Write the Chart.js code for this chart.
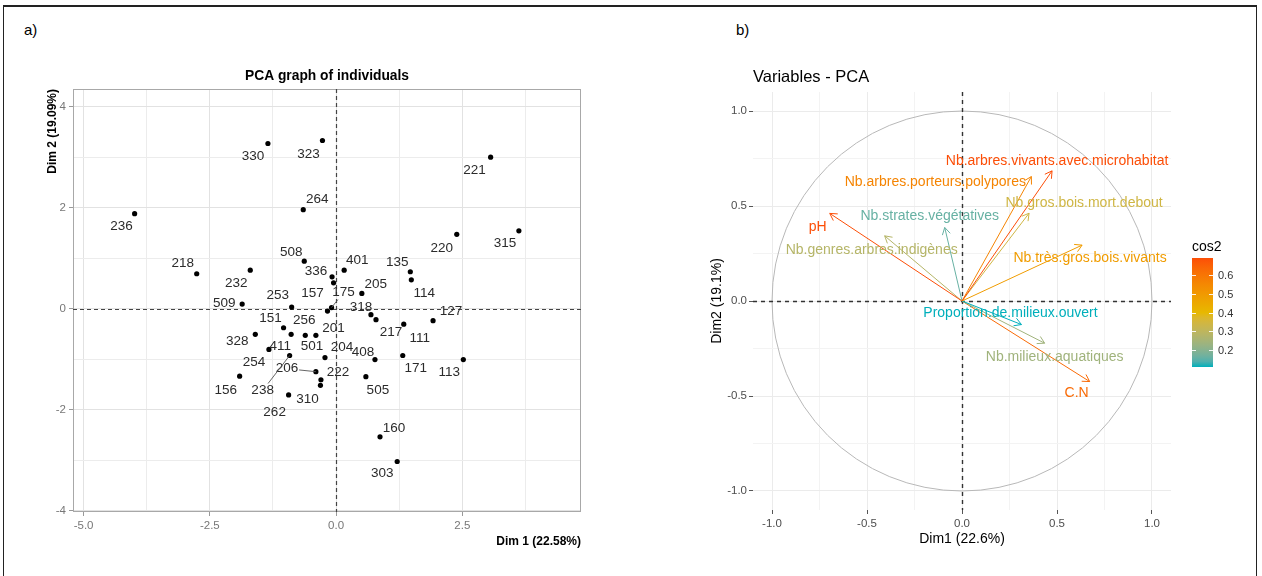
<!DOCTYPE html>
<html>
<head>
<meta charset="utf-8">
<script src="https://cdn.jsdelivr.net/npm/chart.js@4.4.0/dist/chart.umd.min.js"></script>
<style>
  html, body { margin: 0; padding: 0; background: #fff; }
  #page { position: relative; width: 1262px; height: 576px; overflow: hidden; background: #fff;
          font-family: "Liberation Sans", Arial, sans-serif; }
  #frame { position: absolute; left: 3px; top: 5px; width: 1252px; height: 620px;
           border: 1px solid #222; border-top-width: 2px; }
  .tag { position: absolute; top: 21px; font-size: 15px; line-height: 18px; color: #000; }
  #cvA { position: absolute; left: 0; top: 0; }
  #cvB { position: absolute; left: 640px; top: 0; }
</style>
</head>
<body>
<div id="page">
  <div id="frame"></div>
  <div class="tag" style="left:24px">a)</div>
  <div class="tag" style="left:736px">b)</div>
  <canvas id="cvA" width="640" height="576"></canvas>
  <canvas id="cvB" width="622" height="576"></canvas>
</div>
<script>
// ---- panel a: individuals ----
const indNames = ["330", "323", "264", "236", "218", "232", "508", "336", "157", "401",
  "175", "205", "509", "253", "318", "217", "201", "151", "256", "411",
  "501", "328", "204", "408", "254", "206", "238", "222", "156", "505",
  "310", "262", "135", "114", "220", "221", "315", "111", "127", "171",
  "113", "160", "303"];
const indDim1 = [-1.35, -0.27, -0.65, -3.99, -2.76, -1.70, -0.63, -0.08, -0.05, 0.16,
  -0.09, 0.51, -1.86, -0.88, 0.69, 0.79, -0.17, -1.04, -0.61, -0.89,
  -0.40, -1.60, -0.22, 0.77, -1.33, -0.40, -0.92, -0.30, -1.91, 0.59,
  -0.31, -0.94, 1.47, 1.49, 2.39, 3.06, 3.62, 1.34, 1.92, 1.32,
  2.52, 0.87, 1.21];
const indDim2 = [3.27, 3.33, 1.96, 1.88, 0.69, 0.76, 0.94, 0.63, 0.51, 0.76,
  0.02, 0.30, 0.09, 0.03, -0.12, -0.22, -0.05, -0.38, -0.53, -0.51,
  -0.53, -0.51, -0.97, -1.01, -0.81, -1.25, -0.93, -1.41, -1.34, -1.35,
  -1.52, -1.71, 0.73, 0.57, 1.47, 3.00, 1.54, -0.31, -0.24, -0.93,
  -1.01, -2.54, -3.03];

// label placement (pixel offset of the text centre from its point), like ggrepel output
const indLabelShift = [[-15, 13], [-14, 14], [14, -10], [-13, 13], [-14, -10], [-14, 13], [-13, -9], [-16, -5], [-21, 10], [13, -10],
  [12, -15], [14, -9], [-18, -1], [-14, -12], [-10, -7], [15, 13], [6, 17], [-13, -9], [-1, -15], [-11, 12],
  [-4, 11], [-18, 7], [17, -10], [-12, -7], [-15, 13], [-29, -3], [-27, 35], [17, -7], [-14, 14], [12, 14],
  [-13, 14], [-14, 17], [-13, -9], [13, 13], [-15, 14], [-16, 13], [-14, 12], [16, 14], [18, -9], [13, 13],
  [-14, 13], [14, -9], [-15, 12]];
const indWithSegment = ["175", "206", "238"];

// ---- panel b: variables ----
const varNames = ["Nb.arbres.vivants.avec.microhabitat", "Nb.arbres.porteurs.polypores",
  "Nb.gros.bois.mort.debout", "Nb.strates.végétatives", "pH", "Nb.genres.arbres.indigènes",
  "Nb.très.gros.bois.vivants", "Proportion.de.milieux.ouvert", "Nb.milieux.aquatiques", "C.N"];
const varDim1 = [0.474, 0.365, 0.353, -0.091, -0.696, -0.407, 0.632, 0.313, 0.435, 0.672];
const varDim2 = [0.685, 0.655, 0.462, 0.387, 0.461, 0.343, 0.294, -0.124, -0.222, -0.424];
const varCos2 = [0.69, 0.56, 0.34, 0.16, 0.69, 0.28, 0.49, 0.11, 0.24, 0.63];
const varLabelShift = [[5, -10], [-96, 6], [55, -10], [-15, -11], [-12, 14], [-13, 14],
  [8, 13], [-11, -11], [10, 14], [-13, 12]];
const cos2Ticks = [0.2, 0.3, 0.4, 0.5, 0.6];

const gradCols = ["#00AFBB", "#E7B800", "#FC4E07"];
const cosLo = Math.min(...varCos2);
const cosHi = Math.max(...varCos2);

Chart.defaults.font.family = "'Liberation Sans', Arial, Helvetica, sans-serif";

function isMul(v, s) {
  return Math.abs(v / s - Math.round(v / s)) < 1e-6;
}

// colour ramp in CIE Lab, the way ggplot's gradientn does it
function hexToLab(h) {
  const rgb = [1, 3, 5].map(i => parseInt(h.slice(i, i + 2), 16) / 255)
    .map(c => c <= 0.04045 ? c / 12.92 : Math.pow((c + 0.055) / 1.055, 2.4));
  const [r, g, b] = rgb;
  const X = (0.4124564 * r + 0.3575761 * g + 0.1804375 * b) / 0.95047;
  const Y = 0.2126729 * r + 0.7151522 * g + 0.0721750 * b;
  const Z = (0.0193339 * r + 0.1191920 * g + 0.9503041 * b) / 1.08883;
  const f = t => t > 0.008856 ? Math.cbrt(t) : 7.787 * t + 16 / 116;
  const fx = f(X), fy = f(Y), fz = f(Z);
  return [116 * fy - 16, 500 * (fx - fy), 200 * (fy - fz)];
}

function labToCss(lab) {
  const fy = (lab[0] + 16) / 116, fx = fy + lab[1] / 500, fz = fy - lab[2] / 200;
  const inv = f => f * f * f > 0.008856 ? f * f * f : (f - 16 / 116) / 7.787;
  const X = inv(fx) * 0.95047, Y = inv(fy), Z = inv(fz) * 1.08883;
  const lin = [
    3.2404542 * X - 1.5371385 * Y - 0.4985314 * Z,
    -0.9692660 * X + 1.8760108 * Y + 0.0415560 * Z,
    0.0556434 * X - 0.2040259 * Y + 1.0572252 * Z
  ];
  const out = lin.map(c => {
    const v = c <= 0.0031308 ? 12.92 * c : 1.055 * Math.pow(c, 1 / 2.4) - 0.055;
    return Math.round(Math.max(0, Math.min(1, v)) * 255);
  });
  return "rgb(" + out.join(",") + ")";
}

const gradLab = gradCols.map(hexToLab);

function rampColor(t) {
  t = Math.max(0, Math.min(1, t));
  const seg = t < 0.5 ? 0 : 1;
  const u = seg === 0 ? t / 0.5 : (t - 0.5) / 0.5;
  const a = gradLab[seg], b = gradLab[seg + 1];
  return labToCss(a.map((c, i) => c + (b[i] - c) * u));
}

function cos2Color(v) {
  return rampColor((v - cosLo) / (cosHi - cosLo));
}

function zeroLines(chart, color, width, dash) {
  const { ctx, chartArea: a, scales: { x, y } } = chart;
  const x0 = Math.round(x.getPixelForValue(0)) + 0.5;
  const y0 = Math.round(y.getPixelForValue(0)) + 0.5;
  ctx.save();
  ctx.strokeStyle = color;
  ctx.lineWidth = width;
  ctx.setLineDash(dash);
  ctx.beginPath();
  ctx.moveTo(x0, a.top);
  ctx.lineTo(x0, a.bottom);
  ctx.moveTo(a.left, y0);
  ctx.lineTo(a.right, y0);
  ctx.stroke();
  ctx.restore();
}

// ---- chart a ----
const indPlugin = {
  id: "indPlugin",
  beforeDatasetsDraw(chart) {
    const { ctx, chartArea: a } = chart;
    ctx.save();
    ctx.strokeStyle = "#a8a8a8";
    ctx.lineWidth = 1;
    ctx.strokeRect(a.left + 0.5, a.top + 0.5, a.width - 1, a.height - 1);
    ctx.restore();
    zeroLines(chart, "#444", 1.2, [4, 3]);
  },
  afterDatasetsDraw(chart) {
    const { ctx } = chart;
    const meta = chart.getDatasetMeta(0);
    ctx.save();
    ctx.font = "13.5px 'Liberation Sans', Arial, sans-serif";
    ctx.textAlign = "center";
    ctx.textBaseline = "middle";
    meta.data.forEach((pt, i) => {
      const lx = pt.x + indLabelShift[i][0];
      const ly = pt.y + indLabelShift[i][1];
      if (indWithSegment.includes(indNames[i])) {
        const w = ctx.measureText(indNames[i]).width / 2 + 1;
        const h = 7;
        const dx = pt.x - lx, dy = pt.y - ly;
        const s = Math.max(Math.abs(dx) / w, Math.abs(dy) / h);
        ctx.strokeStyle = "#555";
        ctx.lineWidth = 0.9;
        ctx.beginPath();
        ctx.moveTo(pt.x, pt.y);
        ctx.lineTo(lx + dx / s, ly + dy / s);
        ctx.stroke();
      }
      ctx.fillStyle = "#2b2b2b";
      ctx.fillText(indNames[i], lx, ly);
    });
    ctx.restore();
  },
  afterDraw(chart) {
    const { ctx, chartArea: a } = chart;
    ctx.save();
    ctx.font = "bold 13.8px 'Liberation Sans', Arial, sans-serif";
    ctx.fillStyle = "#000";
    ctx.textAlign = "center";
    ctx.textBaseline = "middle";
    ctx.fillText("PCA graph of individuals", (a.left + a.right) / 2, 76);
    ctx.restore();
  }
};

new Chart(document.getElementById("cvA"), {
  type: "scatter",
  data: {
    datasets: [{
      data: indDim1.map((v, i) => ({ x: v, y: indDim2[i] })),
      pointRadius: 2.6,
      pointBackgroundColor: "#000",
      pointBorderWidth: 0
    }]
  },
  options: {
    responsive: false,
    animation: false,
    events: [],
    layout: { padding: { left: 41, top: 89, right: 59, bottom: 23 } },
    plugins: { legend: { display: false }, tooltip: { enabled: false } },
    scales: {
      x: {
        min: -5.21, max: 4.85,
        afterFit: s => { s.height = 41; },
        border: { display: false },
        grid: {
          color: c => isMul(c.tick.value, 2.5) ? "#e2e2e2" : "#ececec",
          tickColor: c => isMul(c.tick.value, 2.5) ? "#999" : "rgba(0,0,0,0)",
          tickLength: 4
        },
        ticks: {
          stepSize: 1.25, includeBounds: false, autoSkip: false, maxRotation: 0,
          color: "#777", font: { size: 11.5 }, padding: 3,
          callback: v => isMul(v, 2.5) ? v.toFixed(1) : ""
        },
        title: { display: true, text: "Dim 1 (22.58%)", align: "end", color: "#000",
                 font: { size: 12, weight: "bold" }, padding: { top: 4, bottom: 4 } }
      },
      y: {
        min: -4.03, max: 4.35,
        afterFit: s => { s.width = 32; },
        border: { display: false },
        grid: {
          color: c => isMul(c.tick.value, 2) ? "#e2e2e2" : "#ececec",
          tickColor: c => isMul(c.tick.value, 2) ? "#999" : "rgba(0,0,0,0)",
          tickLength: 4
        },
        ticks: {
          stepSize: 1, includeBounds: false, autoSkip: false,
          color: "#777", font: { size: 11.5 }, padding: 3,
          callback: v => isMul(v, 2) ? String(v) : ""
        },
        title: { display: true, text: "Dim 2 (19.09%)", align: "end", color: "#000",
                 font: { size: 12, weight: "bold" }, padding: { top: 4, bottom: 4 } }
      }
    }
  },
  plugins: [indPlugin]
});

// ---- chart b ----
const varPlugin = {
  id: "varPlugin",
  beforeDatasetsDraw(chart) {
    const { ctx, scales: { x, y } } = chart;
    const cx = x.getPixelForValue(0), cy = y.getPixelForValue(0);
    const rx = x.getPixelForValue(1) - cx, ry = cy - y.getPixelForValue(1);
    ctx.save();
    ctx.strokeStyle = "#b8b8b8";
    ctx.lineWidth = 1;
    ctx.beginPath();
    ctx.ellipse(cx, cy, rx, ry, 0, 0, Math.PI * 2);
    ctx.stroke();
    ctx.restore();
    zeroLines(chart, "#333", 1.4, [4, 4]);
  },
  afterDatasetsDraw(chart) {
    const { ctx } = chart;
    ctx.save();
    chart.data.datasets.forEach((ds, i) => {
      const meta = chart.getDatasetMeta(i);
      const o = meta.data[0], t = meta.data[1];
      const ang = Math.atan2(t.y - o.y, t.x - o.x);
      const L = 8, spread = Math.PI / 6;
      ctx.strokeStyle = ds.borderColor;
      ctx.lineWidth = 1;
      ctx.beginPath();
      ctx.moveTo(t.x - L * Math.cos(ang - spread), t.y - L * Math.sin(ang - spread));
      ctx.lineTo(t.x, t.y);
      ctx.lineTo(t.x - L * Math.cos(ang + spread), t.y - L * Math.sin(ang + spread));
      ctx.stroke();
    });
    ctx.font = "14px 'Liberation Sans', Arial, sans-serif";
    ctx.textAlign = "center";
    ctx.textBaseline = "middle";
    chart.data.datasets.forEach((ds, i) => {
      const t = chart.getDatasetMeta(i).data[1];
      ctx.fillStyle = ds.borderColor;
      ctx.fillText(varNames[i], t.x + varLabelShift[i][0], t.y + varLabelShift[i][1]);
    });
    ctx.restore();
  },
  afterDraw(chart) {
    const { ctx, chartArea: a } = chart;
    ctx.save();
    ctx.fillStyle = "#000";
    ctx.font = "16.5px 'Liberation Sans', Arial, sans-serif";
    ctx.textAlign = "left";
    ctx.textBaseline = "middle";
    ctx.fillText("Variables - PCA", a.left, 77);

    // colour bar legend
    const bx = 552, bw = 21, top = 258, bot = 367;
    const g = ctx.createLinearGradient(0, bot, 0, top);
    for (let k = 0; k <= 20; k++) g.addColorStop(k / 20, rampColor(k / 20));
    ctx.fillStyle = g;
    ctx.fillRect(bx, top, bw, bot - top);
    ctx.font = "14px 'Liberation Sans', Arial, sans-serif";
    ctx.fillStyle = "#000";
    ctx.fillText("cos2", bx, 247);
    ctx.font = "11px 'Liberation Sans', Arial, sans-serif";
    cos2Ticks.forEach(v => {
      const ty = Math.round(bot - (v - cosLo) / (cosHi - cosLo) * (bot - top)) + 0.5;
      ctx.strokeStyle = "rgba(255,255,255,0.9)";
      ctx.lineWidth = 1;
      ctx.beginPath();
      ctx.moveTo(bx, ty); ctx.lineTo(bx + 4, ty);
      ctx.moveTo(bx + bw - 4, ty); ctx.lineTo(bx + bw, ty);
      ctx.stroke();
      ctx.fillStyle = "#333";
      ctx.fillText(v.toFixed(1), bx + bw + 5, ty);
    });
    ctx.restore();
  }
};

new Chart(document.getElementById("cvB"), {
  type: "scatter",
  data: {
    datasets: varNames.map((n, i) => ({
      label: n,
      data: [{ x: 0, y: 0 }, { x: varDim1[i], y: varDim2[i] }],
      showLine: true,
      borderColor: cos2Color(varCos2[i]),
      borderWidth: 1,
      pointRadius: 0
    }))
  },
  options: {
    responsive: false,
    animation: false,
    events: [],
    layout: { padding: { left: 65, top: 92, right: 91, bottom: 24 } },
    plugins: { legend: { display: false }, tooltip: { enabled: false } },
    scales: {
      x: {
        min: -1.1, max: 1.1,
        afterFit: s => { s.height = 42; },
        border: { display: false },
        grid: {
          color: c => isMul(c.tick.value, 0.5) ? "#ebebeb" : "#f3f3f3",
          tickColor: c => isMul(c.tick.value, 0.5) ? "#555" : "rgba(0,0,0,0)",
          tickLength: 4
        },
        ticks: {
          stepSize: 0.25, includeBounds: false, autoSkip: false, maxRotation: 0,
          color: "#4d4d4d", font: { size: 11.5 }, padding: 3,
          callback: v => isMul(v, 0.5) ? v.toFixed(1) : ""
        },
        title: { display: true, text: "Dim1 (22.6%)", color: "#000",
                 font: { size: 14 }, padding: { top: 4, bottom: 4 } }
      },
      y: {
        min: -1.1, max: 1.1,
        afterFit: s => { s.width = 48; },
        border: { display: false },
        grid: {
          color: c => isMul(c.tick.value, 0.5) ? "#ebebeb" : "#f3f3f3",
          tickColor: c => isMul(c.tick.value, 0.5) ? "#555" : "rgba(0,0,0,0)",
          tickLength: 4
        },
        ticks: {
          stepSize: 0.25, includeBounds: false, autoSkip: false,
          color: "#4d4d4d", font: { size: 11.5 }, padding: 2,
          callback: v => isMul(v, 0.5) ? v.toFixed(1) : ""
        },
        title: { display: true, text: "Dim2 (19.1%)", color: "#000",
                 font: { size: 14 }, padding: { top: 4, bottom: 4 } }
      }
    }
  },
  plugins: [varPlugin]
});
</script>
</body>
</html>
